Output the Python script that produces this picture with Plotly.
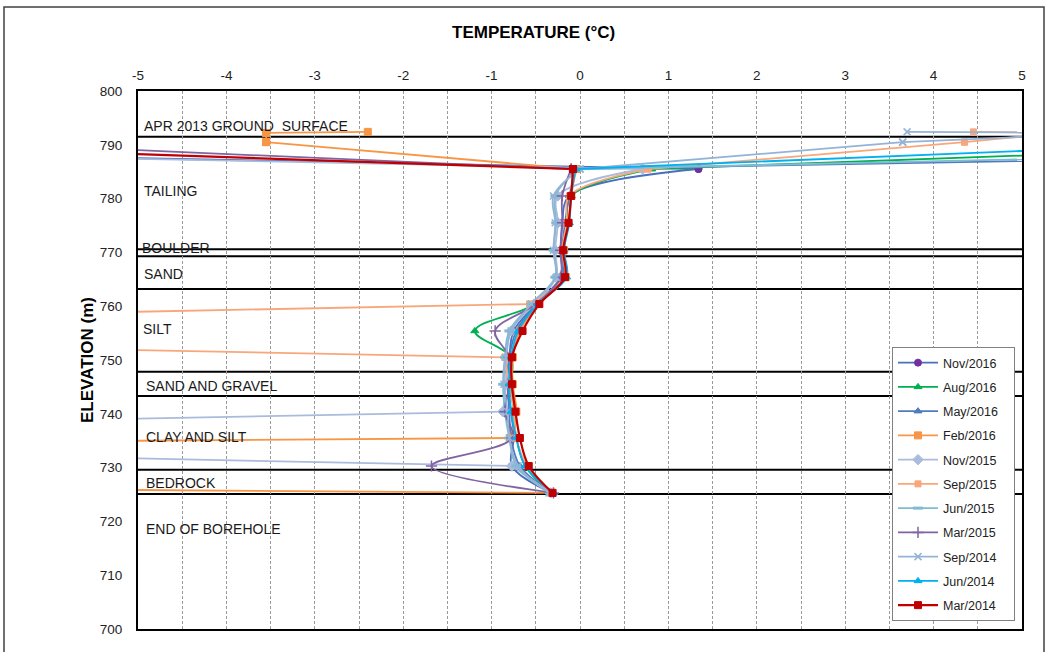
import plotly.graph_objects as go

# Sensor elevations (m): three above-ground nodes, then 13 in-ground nodes
elevations = [792.4, 792.2, 790.5, 785.5, 780.5, 775.5, 770.4, 765.4,
              760.4, 755.4, 750.5, 745.5, 740.4, 735.5, 730.3, 725.3]

series_names = ["Nov/2016", "Aug/2016", "May/2016", "Feb/2016", "Nov/2015",
                "Sep/2015", "Jun/2015", "Mar/2015", "Sep/2014", "Jun/2014",
                "Mar/2014"]

nov_2016 = [None, None, -14.5, 1.34, -0.12, -0.20, -0.22, -0.22, -0.50, -0.75, -0.80, -0.82, -0.78, -0.75, -0.77, -0.32]
aug_2016 = [None, None, 9.2, 0.81, -0.10, -0.15, -0.20, -0.18, -0.50, -1.19, -0.78, -0.78, -0.75, -0.72, -0.62, -0.33]
may_2016 = [None, None, 17.0, -0.05, -0.12, -0.17, -0.20, -0.20, -0.50, -0.72, -0.80, -0.82, -0.80, -0.78, -0.68, -0.32]
feb_2016 = [-2.4, -3.55, -3.55, -0.04, -0.10, -0.13, -0.18, -0.16, -0.47, -0.68, -0.76, -0.76, -0.72, -0.79, -44.0, -0.32]
nov_2015 = [None, None, -14.3, 0.71, -0.25, -0.25, -0.28, -0.27, -0.52, -0.78, -0.83, -0.84, -0.87, -16.5, -0.77, -0.33]
sep_2015 = [4.45, 5.4, 4.35, 0.77, -0.12, -0.15, -0.20, -0.18, -0.57, -16.0, -0.85, -0.80, -0.75, -0.72, -0.60, -0.32]
jun_2015 = [None, None, 14.0, -0.02, -0.28, -0.27, -0.30, -0.28, -0.55, -0.80, -0.85, -0.87, -0.85, -0.80, -0.72, -0.34]
mar_2015 = [None, None, -7.1, -0.10, -0.20, -0.20, -0.22, -0.22, -0.50, -0.96, -0.80, -0.80, -0.85, -0.77, -1.68, -0.30]
sep_2014 = [3.7, 6.0, 3.65, 0.00, -0.30, -0.28, -0.30, -0.27, -0.55, -0.78, -0.84, -0.86, -0.82, -0.80, -0.70, -0.35]
jun_2014 = [None, None, 7.5, -0.05, -0.10, -0.12, -0.18, -0.15, -0.48, -0.70, -0.78, -0.80, -0.78, -0.72, -0.62, -0.30]
mar_2014 = [None, None, -9.0, -0.08, -0.10, -0.13, -0.19, -0.17, -0.46, -0.65, -0.77, -0.77, -0.73, -0.68, -0.58, -0.31]

series_values = [nov_2016, aug_2016, may_2016, feb_2016, nov_2015, sep_2015,
                 jun_2015, mar_2015, sep_2014, jun_2014, mar_2014]

# Geological layer boundaries (m) and labels
layer_lines = [791.5, 770.6, 769.3, 763.2, 747.8, 743.3, 729.6, 725.1]
layer_labels = ["APR 2013 GROUND\u00a0 SURFACE", "TAILING", "BOULDER", "SAND", "SILT",
                "SAND AND GRAVEL", "CLAY AND SILT", "BEDROCK", "END OF BOREHOLE"]
layer_label_elev = [793.5, 781.4, 770.8, 766.0, 755.8, 745.2, 735.7, 727.1, 718.6]
layer_label_temp = [-4.96, -4.96, -4.98, -4.96, -4.97, -4.93, -4.93, -4.93, -4.93]

x_ticks = [-5, -4, -3, -2, -1, 0, 1, 2, 3, 4, 5]
y_ticks = [700, 710, 720, 730, 740, 750, 760, 770, 780, 790, 800]
X_MIN, X_MAX = -5, 5
N_ABOVE = 3  # number of above-ground nodes at the start of each list

styles = [
    dict(line="#4A6FBE", marker="#7030A0", symbol="circle", size=7, mlw=1),
    dict(line="#00B050", marker="#00B050", symbol="triangle-up", size=7, mlw=1),
    dict(line="#4F7CC0", marker="#4F7CC0", symbol="triangle-up", size=7, mlw=1),
    dict(line="#F79646", marker="#F79646", symbol="square", size=7, mlw=1),
    dict(line="#AABBDC", marker="#AABBDC", symbol="diamond", size=8, mlw=1),
    dict(line="#F9A77A", marker="#F9A77A", symbol="square", size=6, mlw=1),
    dict(line="#7FBCD2", marker="#7FBCD2", symbol="line-ew", size=7, mlw=3),
    dict(line="#8064A2", marker="#8064A2", symbol="cross-thin", size=8, mlw=1.5),
    dict(line="#95B3D7", marker="#95B3D7", symbol="x-thin", size=7, mlw=1.5),
    dict(line="#00B0F0", marker="#00B0F0", symbol="triangle-up", size=7, mlw=1),
    dict(line="#C00000", marker="#C00000", symbol="square", size=7, mlw=1),
]

font_family = "Arial, Liberation Sans, sans-serif"
LEGEND_PAD = "\u00a0\u00a0\u00a0"


def off(v):
    return v is not None and (v < X_MIN or v > X_MAX)


fig = go.Figure()
for name, vals, st in zip(series_names, series_values, styles):
    width = 2.2 if name == "Mar/2014" else 1.8
    marker = dict(color=st["marker"], symbol=st["symbol"], size=st["size"],
                  line=dict(color=st["marker"], width=st["mlw"]))
    # straight segments: above-ground part and any jump to an off-scale reading
    sx, sy = [], []
    for i in range(len(vals) - 1):
        a, b = vals[i], vals[i + 1]
        if a is None or b is None:
            continue
        if i < N_ABOVE or off(a) or off(b):
            sx += [a, b, None]
            sy += [elevations[i], elevations[i + 1], None]
    fig.add_trace(go.Scatter(
        x=sx, y=sy, name=name, mode="lines+markers", legendgroup=name,
        showlegend=False, line=dict(color=st["line"], width=width),
        marker=marker, connectgaps=False, hoverinfo="skip"))
    # smoothed in-ground profile
    gx = [None if off(v) else v for v in vals[N_ABOVE:]]
    fig.add_trace(go.Scatter(
        x=gx, y=elevations[N_ABOVE:], name=name + LEGEND_PAD, mode="lines+markers",
        legendgroup=name,
        line=dict(color=st["line"], width=width, shape="spline", smoothing=1.0),
        marker=marker, connectgaps=False))

L, R, T, B = 138, 23, 91, 23
W, H = 1045, 652
pw, ph = W - L - R, H - T - B

shapes = []
for e in layer_lines:
    shapes.append(dict(type="line", xref="x domain", x0=0, x1=1, yref="y", y0=e, y1=e,
                       line=dict(color="black", width=2), layer="below"))
# outer chart frame
shapes.append(dict(type="rect", xref="paper", yref="paper",
                   x0=(4 - L) / pw, x1=(1044 - L) / pw,
                   y0=-(40) / ph, y1=(H - B - 7) / ph,
                   line=dict(color="#404040", width=1.5), layer="below"))

annotations = []
for txt, ye, xt in zip(layer_labels, layer_label_elev, layer_label_temp):
    annotations.append(dict(text=txt, x=xt, y=ye, xref="x", yref="y", xanchor="left",
                            yanchor="middle", showarrow=False,
                            font=dict(family=font_family, size=14, color="#1a1a1a")))
annotations.append(dict(text="<b>TEMPERATURE (°C)</b>", xref="paper", yref="paper",
                        x=(533 - L) / pw, y=(H - B - 33) / ph, xanchor="center",
                        yanchor="middle", showarrow=False,
                        font=dict(family=font_family, size=17, color="black")))
annotations.append(dict(text="<b>ELEVATION (m)</b>", xref="paper", yref="paper",
                        x=(87 - L) / pw, y=0.5, xanchor="center", yanchor="middle",
                        textangle=-90, showarrow=False,
                        font=dict(family=font_family, size=17, color="black")))

fig.update_layout(
    width=W, height=H,
    margin=dict(l=L, r=R, t=T, b=B),
    paper_bgcolor="white", plot_bgcolor="white",
    font=dict(family=font_family, size=13, color="#222"),
    showlegend=True,
    legend=dict(x=(1015 - L) / pw, xanchor="right", y=(H - B - 621) / ph, yanchor="bottom",
                bgcolor="white", bordercolor="#808080", borderwidth=1,
                font=dict(family=font_family, size=12.5, color="#222"),
                tracegroupgap=5, itemwidth=40),
    shapes=shapes,
    annotations=annotations,
)
fig.update_xaxes(range=[X_MIN, X_MAX], side="top", tickmode="array", tickvals=x_ticks,
                 ticktext=[str(v) for v in x_ticks],
                 showgrid=True, gridcolor="#9a9a9a", gridwidth=1, griddash="3px,2px",
                 minor=dict(dtick=0.5, showgrid=True, gridcolor="#9a9a9a", gridwidth=1,
                            griddash="3px,2px"),
                 showline=True, mirror=True, linecolor="black", linewidth=2,
                 ticks="", zeroline=False, ticklabelstandoff=4,
                 tickfont=dict(family=font_family, size=13.5, color="#222"))
fig.update_yaxes(range=[700, 800], tickmode="array", tickvals=y_ticks,
                 showgrid=False, showline=True, mirror=True, linecolor="black", linewidth=2,
                 ticks="", zeroline=False, ticklabelstandoff=11,
                 tickfont=dict(family=font_family, size=13.5, color="#222"))

fig.write_html("out.html", config={"displayModeBar": False},
               post_script="document.body.style.margin='0';")
